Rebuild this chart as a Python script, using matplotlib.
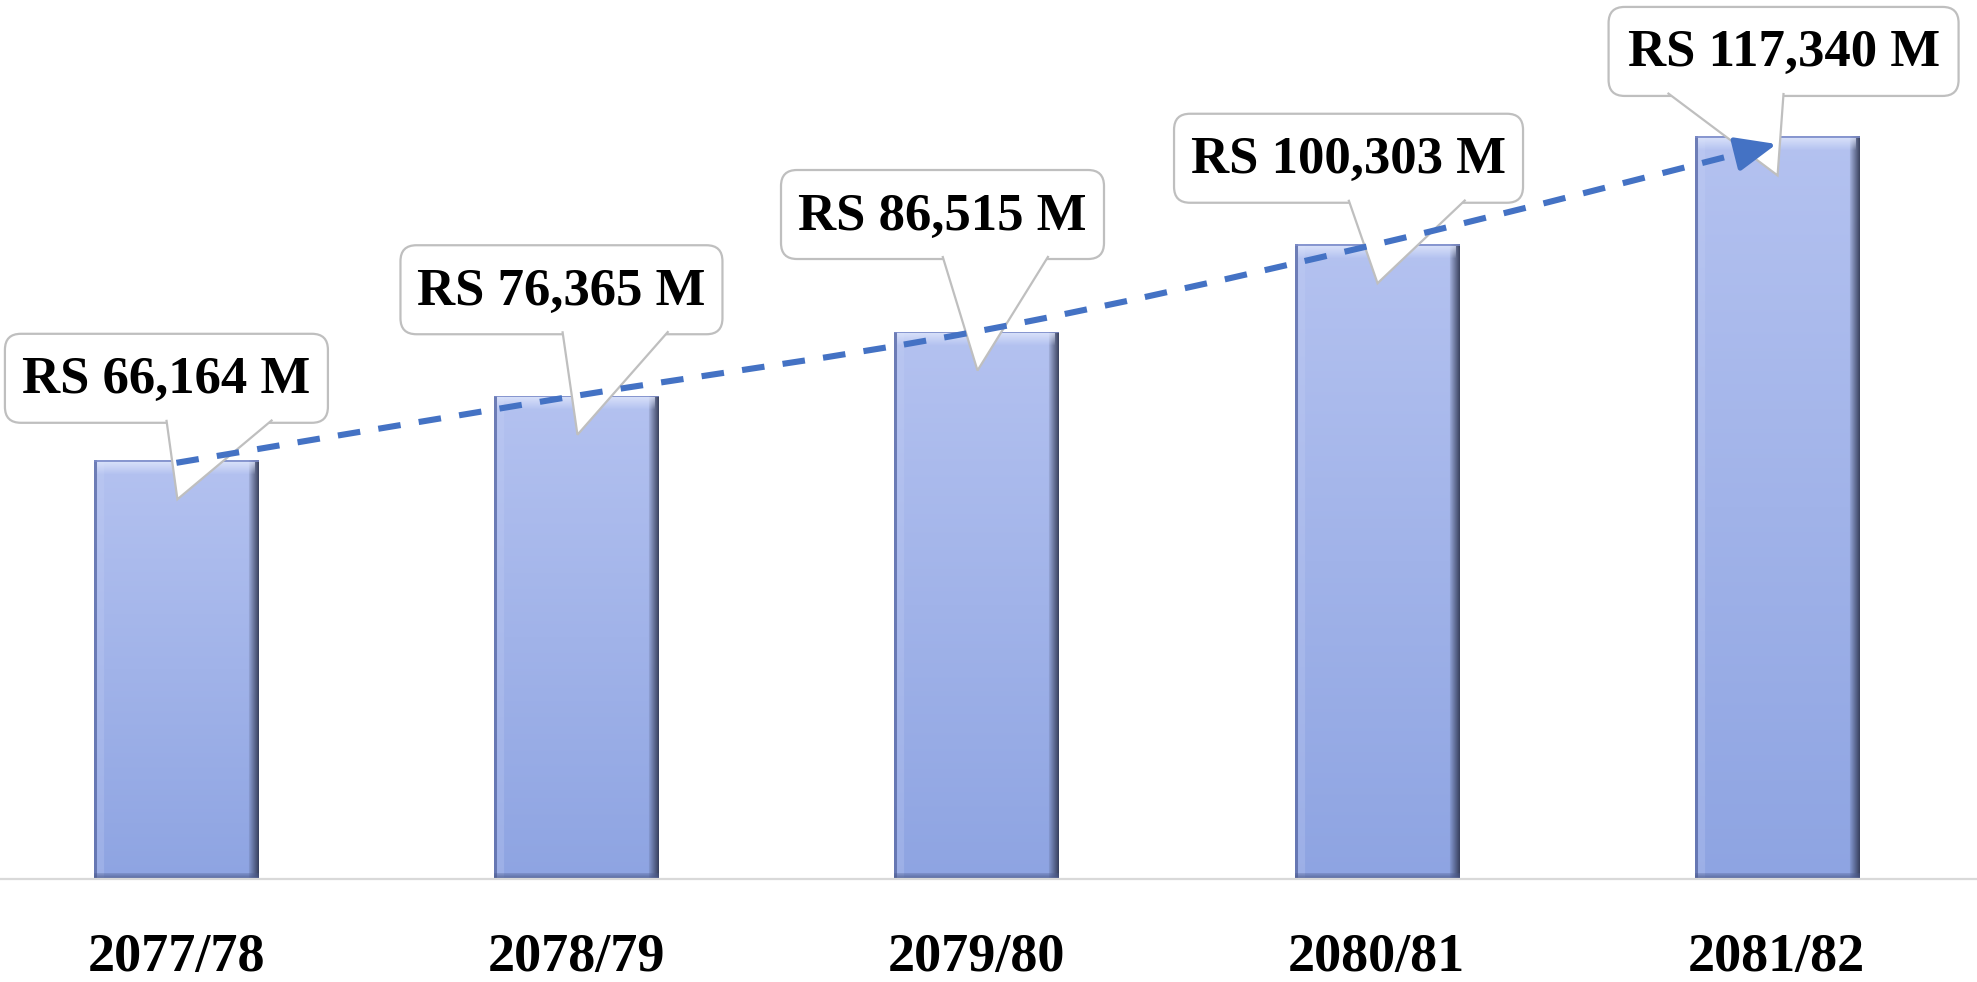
import numpy as np
import matplotlib
matplotlib.use("Agg")
import matplotlib.pyplot as plt
from matplotlib.patches import FancyBboxPatch, Polygon, PathPatch
from matplotlib.path import Path
from matplotlib.transforms import Affine2D, ScaledTranslation

years = ["2077/78", "2078/79", "2079/80", "2080/81", "2081/82"]
revenue = [66164, 76365, 86515, 100303, 117340]   # RS million
labels = ["RS {:,} M".format(v) for v in revenue]

# callout layout, pixels relative to the top centre of each bar
box_dx = [-10, -15, -34, -28, 7]
box_dy = [82, 106, 117, 86, 85]
box_w = [323, 322, 323, 349, 350]
wedge_l = [-10, -14, -34, -28, -109]
wedge_r = [96, 92, 72, 89, 7]
box_h = 89
tip_dy = -39

serif = "Liberation Serif"
blue = "#4472c4"

fig = plt.figure(figsize=(19.77, 9.82), dpi=100)
ax = fig.add_axes([0, 1 - 879 / 982, 1, 879 / 982])
x = np.arange(len(years))
ax.set_xlim(-0.441, 4.501)
ax.set_ylim(0, 138900)

bars = ax.bar(x, revenue, width=0.41, color="#a3b4e8", edgecolor="none", zorder=2)


def blend(img, sl, col, a):
    img[sl] = img[sl] * (1 - a) + np.array(col) / 255 * a


def bar_image(w, h):
    t = np.linspace(0, 1, h)[:, None, None]
    top = np.array([180, 194, 240]) / 255
    bot = np.array([142, 164, 226]) / 255
    img = np.broadcast_to(top * (1 - t) + bot * t, (h, w, 3)).copy()
    # left bevel
    blend(img, (slice(None), slice(0, 3)), (92, 108, 168), 0.8)
    blend(img, (slice(None), slice(3, 10)), (200, 210, 245), 0.25)
    # right bevel, dark
    for k in range(10):
        blend(img, (slice(None), w - 10 + k), (45, 52, 78), 0.15 + 0.08 * k)
    # top highlight
    blend(img, (slice(0, 2), slice(None)), (125, 140, 200), 0.8)
    for k in range(2, 14):
        blend(img, (k, slice(3, w - 4)), (225, 232, 252), 0.75 * (1 - (k - 2) / 12))
    # bottom edge
    for k in range(6):
        blend(img, (h - 6 + k, slice(None)), (75, 90, 140), 0.3 + 0.1 * k)
    return img


y0 = ax.transData.transform((0, 0))[1]
for b, v in zip(bars, revenue):
    x0 = b.get_x()
    x1 = x0 + b.get_width()
    px = ax.transData.transform([(x0, v), (x1, v)])
    w = int(round(px[1, 0] - px[0, 0]))
    h = int(round(px[0, 1] - y0))
    im = ax.imshow(bar_image(w, h), extent=(x0, x1, 0, v), aspect="auto",
                   interpolation="bilinear", zorder=2)
    im.set_clip_path(b)

ax.set_xlim(-0.441, 4.501)
ax.set_ylim(0, 138900)

# callouts
for i, v in enumerate(revenue):
    tr = Affine2D() + ScaledTranslation(x[i], v, ax.transData)
    bx = box_dx[i] - box_w[i] / 2
    by = box_dy[i] - box_h / 2
    box = FancyBboxPatch((bx, by), box_w[i], box_h,
                         boxstyle="round,pad=0,rounding_size=16",
                         transform=tr, fc="white", ec="#bfbfbf", lw=1.6, zorder=4)
    ax.add_patch(box)
    bottom = by + 3
    wedge = Polygon([(wedge_l[i], bottom), (1, tip_dy), (wedge_r[i], bottom)],
                    closed=False, transform=tr, fc="white", ec="#bfbfbf",
                    lw=1.6, zorder=5)
    ax.add_patch(wedge)
    ax.text(box_dx[i], box_dy[i] - 2, labels[i], transform=tr, ha="center",
            va="center", fontsize=38, fontweight="bold", family=serif,
            color="black", zorder=6)

# smoothed dashed trend line through the bar tops, arrow at the end
pts = np.column_stack([x, revenue]).astype(float)
pts[0, 1] -= 400
pts[-1, 1] -= 1200
ext = np.vstack([pts[0], pts, pts[-1]])
verts = [tuple(pts[0])]
codes = [Path.MOVETO]
for i in range(len(pts) - 1):
    c1 = ext[i + 1] + (ext[i + 2] - ext[i]) / 6
    c2 = ext[i + 2] - (ext[i + 3] - ext[i + 1]) / 6
    verts += [tuple(c1), tuple(c2), tuple(ext[i + 2])]
    codes += [Path.CURVE4] * 3
trend = PathPatch(Path(verts, codes), fill=False, ec=blue, lw=4.4,
                  linestyle=(0, (3.7, 3.0)), zorder=7)
ax.add_patch(trend)

d = pts[-1] - pts[-2]
back = 0.07
ax.annotate("", xy=tuple(pts[-1]), xytext=tuple(pts[-1] - d * back),
            arrowprops=dict(arrowstyle="-|>,head_length=2.5,head_width=1.05",
                            color=blue, lw=3.6, shrinkA=0, shrinkB=0,
                            mutation_scale=10),
            zorder=7)

for s in ["top", "left", "right"]:
    ax.spines[s].set_visible(False)
ax.spines["bottom"].set_color("#d9d9d9")
ax.spines["bottom"].set_linewidth(1.6)
ax.set_yticks([])
ax.set_xticks(x)
ax.set_xticklabels(years, fontsize=39, fontweight="bold", family=serif)
ax.tick_params(axis="x", length=0, pad=39)
ax.set_facecolor("none")

fig.savefig("out.png", dpi=100)
